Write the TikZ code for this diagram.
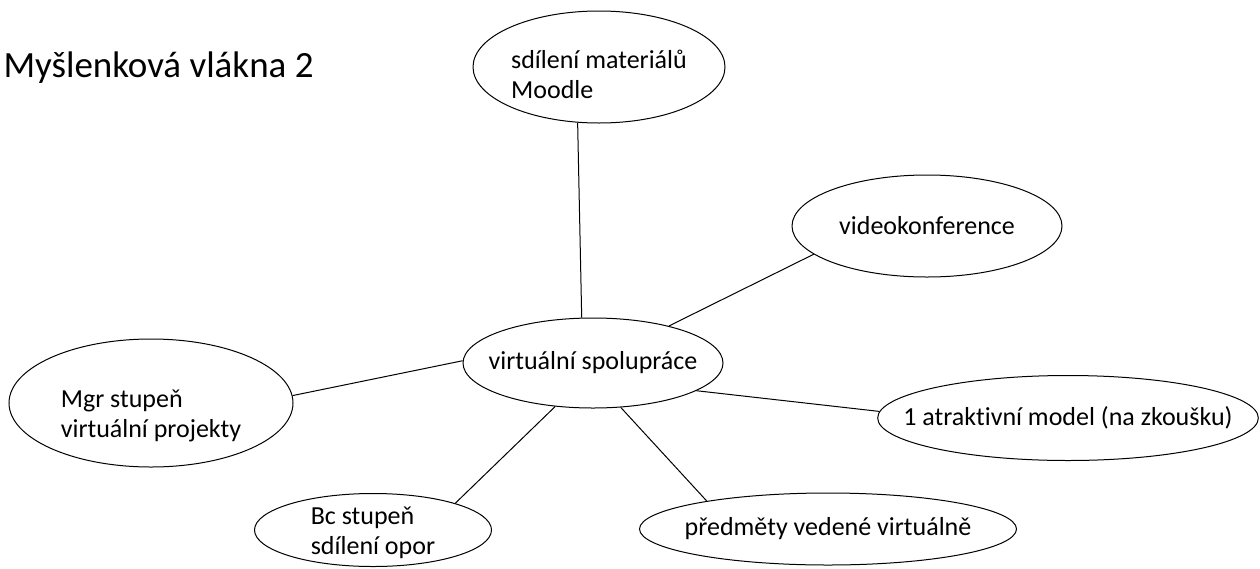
\documentclass[tikz,border=0pt]{standalone}
\usepackage{fontspec}
\setmainfont{Carlito}[Ligatures=NoCommon]
\usetikzlibrary{shapes.geometric}
\tikzset{%
    bubble/.style={ellipse, draw, inner sep=-30pt, font=\fontsize{26}{30}\selectfont, align=left},
    link/.style={line width=1pt},
    %heading/.style={font=\Large}
}
% pushes a two-line text down inside its ellipse
\newcommand{\lift}[1]{\rule{0pt}{#1}}

\begin{document}
\begin{tikzpicture}[x=1pt, y=-1pt, line width=1pt]

	\useasboundingbox (0,0) rectangle (1260,568);

	% title
	\node[anchor=base west, inner sep=0pt, font=\fontsize{37}{40}\selectfont] (title) at (3,77) {Myšlenková vlákna 2};

	% middle
	\node[bubble, minimum width=260pt, minimum height=90pt] (hub) at (593,363) {virtuální spolupráce};

	% bubbles round it
	\node[bubble, minimum width=252pt, minimum height=112pt] (moodle) at (599,67) {\lift{33pt}sdílení materiálů\\Moodle};
	\node[bubble, minimum width=270pt, minimum height=102pt] (video) at (927,226) {videokonference};
	\node[bubble, minimum width=284pt, minimum height=128pt] (mgr) at (151,403) {\lift{43pt}Mgr stupeň\\virtuální projekty};
	\node[bubble, minimum width=380pt, minimum height=85pt] (model) at (1068,418) {1 atraktivní model (na zkoušku)};
	\node[bubble, minimum width=237pt, minimum height=73pt] (bc) at (373,530) {\lift{24pt}Bc stupeň\\sdílení opor};
	\node[bubble, minimum width=377pt, minimum height=72pt] (subj) at (828,529) {předměty vedené virtuálně};

	% links
	\foreach \n/\p/\q in {moodle/249/104, video/194/26, mgr/3/179, model/178/-15, bc/18/229, subj/167/-58}
		\draw[link] (\n.\p) -- (hub.\q);

\end{tikzpicture}
\end{document}
